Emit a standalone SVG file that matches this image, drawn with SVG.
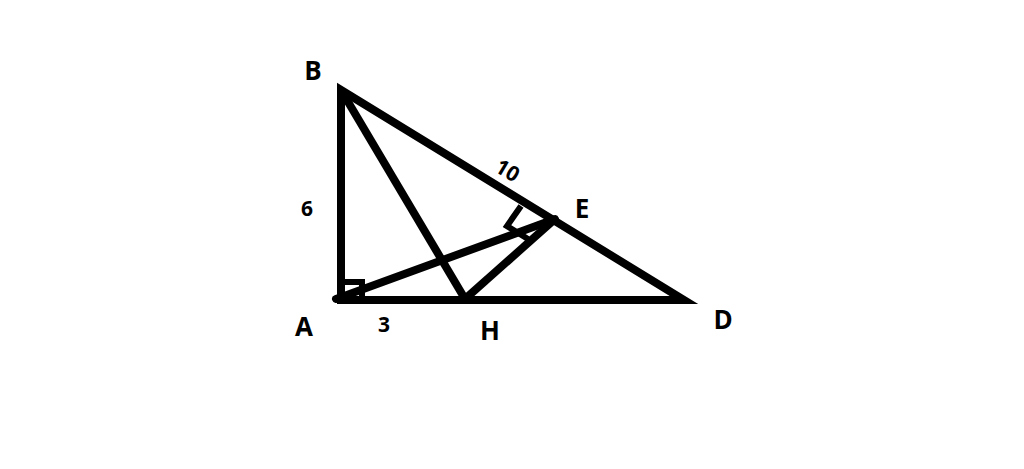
<svg xmlns="http://www.w3.org/2000/svg" width="1024" height="469" viewBox="0 0 1024 469">
<style>
.ln{stroke:#000;stroke-width:8;fill:none;stroke-linejoin:miter}
.mk{stroke:#000;stroke-width:6;fill:none}
.lb{font-family:"Open Sans","Noto Sans",sans-serif;font-weight:bold;font-size:26px;fill:#000;text-anchor:middle;dominant-baseline:central}
.nm{font-family:"Open Sans","Noto Sans",sans-serif;font-weight:bold;font-size:21px;fill:#000;text-anchor:middle;dominant-baseline:central}
</style>
<rect width="1024" height="469" fill="#fff"/>
<g id="connectors">
<polygon class="ln" points="341,300 341,90 684,300"/>
<line class="ln" x1="341" y1="90" x2="465" y2="299"/>
<line class="ln" x1="336" y1="299" x2="555" y2="219" stroke-linecap="round"/>
<line class="ln" x1="465" y1="299" x2="555" y2="219"/>
<polyline class="mk" points="344,282 362,282 362,300"/>
<polyline class="mk" points="521,206 507,226 528,239"/>
</g>
<g id="B"><text class="lb" x="313" y="70">B</text></g>
<g id="A"><text class="lb" x="304" y="326">A</text></g>
<g id="H"><text class="lb" x="490" y="330">H</text></g>
<g id="D"><text class="lb" x="723" y="319">D</text></g>
<g id="E"><text class="lb" x="582" y="208">E</text></g>
<g id="labels">
<text class="nm" x="307" y="208">6</text>
<text class="nm" x="384" y="324">3</text>
<text class="nm" x="508" y="170" transform="rotate(31 508 170)">10</text>
</g>
</svg>
